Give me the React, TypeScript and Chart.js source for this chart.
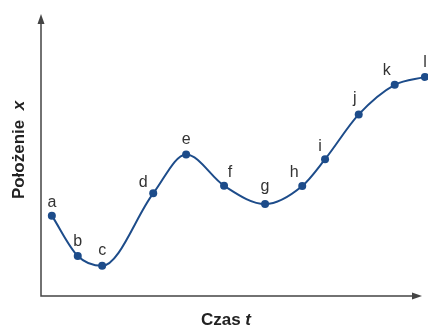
import React, { useEffect, useRef } from "react";
import { Chart, registerables } from "chart.js";

Chart.register(...registerables);

const pointLabels = ["a", "b", "c", "d", "e", "f", "g", "h", "i", "j", "k", "l"];
const timeValues = [0.28, 0.95, 1.58, 2.9, 3.75, 4.73, 5.79, 6.75, 7.34, 8.21, 9.14, 9.92];
const positionValues = [2.85, 1.42, 1.07, 3.64, 5.02, 3.91, 3.26, 3.9, 4.85, 6.44, 7.49, 7.77];
const xAxisTitle = "Czas";
const xAxisVar = "t";
const yAxisTitle = "Położenie";
const yAxisVar = "x";

// label placement relative to each point (dx, dy to baseline)
const labelOffsets: [number, number][] = [
  [0, -9], [0, -10], [0, -10.5], [-10, -6], [0, -10], [6, -9],
  [0, -13], [-8, -9], [-5, -8.5], [-4, -11], [-8, -10], [0, -10],
];

const CURVE = "#1d4c8a";
const AXIS = "#444";

const decorPlugin = {
  id: "decor",
  beforeDatasetsDraw(chart: any) {
    const { ctx, chartArea } = chart;
    const x0 = chartArea.left;
    const y0 = chartArea.bottom;
    const top = chartArea.top;
    const right = 422;
    ctx.save();
    ctx.strokeStyle = AXIS;
    ctx.fillStyle = AXIS;
    ctx.lineWidth = 1.5;
    ctx.beginPath();
    ctx.moveTo(x0, top + 8);
    ctx.lineTo(x0, y0);
    ctx.lineTo(right - 8, y0);
    ctx.stroke();
    // y arrow
    ctx.beginPath();
    ctx.moveTo(x0, top);
    ctx.lineTo(x0 - 3.5, top + 10);
    ctx.lineTo(x0 + 3.5, top + 10);
    ctx.closePath();
    ctx.fill();
    // x arrow
    ctx.beginPath();
    ctx.moveTo(right, y0);
    ctx.lineTo(right - 10, y0 - 3.5);
    ctx.lineTo(right - 10, y0 + 3.5);
    ctx.closePath();
    ctx.fill();

    // x title
    ctx.fillStyle = "#222";
    ctx.textBaseline = "alphabetic";
    const f1 = "bold 17px 'Liberation Sans', Arial, sans-serif";
    const f2 = "italic bold 17px 'Liberation Sans', Arial, sans-serif";
    ctx.font = f1;
    const w1 = ctx.measureText(xAxisTitle + " ").width;
    ctx.font = f2;
    const w2 = ctx.measureText(xAxisVar).width;
    const cx = 226;
    let sx = cx - (w1 + w2) / 2;
    ctx.font = f1;
    ctx.textAlign = "left";
    ctx.fillText(xAxisTitle + " ", sx, 325);
    ctx.font = f2;
    ctx.fillText(xAxisVar, sx + w1, 325);

    // y title
    ctx.save();
    ctx.translate(24, 150);
    ctx.rotate(-Math.PI / 2);
    ctx.font = f1;
    const v1 = ctx.measureText(yAxisTitle + "  ").width;
    ctx.font = f2;
    const v2 = ctx.measureText(yAxisVar).width;
    sx = -(v1 + v2) / 2;
    ctx.font = f1;
    ctx.fillText(yAxisTitle + "  ", sx, 0);
    ctx.font = f2;
    ctx.fillText(yAxisVar, sx + v1, 0);
    ctx.restore();
    ctx.restore();
  },
  afterDatasetsDraw(chart: any) {
    const { ctx } = chart;
    const meta = chart.getDatasetMeta(0);
    ctx.save();
    ctx.fillStyle = "#333";
    ctx.font = "16px 'Liberation Sans', Arial, sans-serif";
    ctx.textAlign = "center";
    ctx.textBaseline = "alphabetic";
    meta.data.forEach((pt: any, i: number) => {
      const [dx, dy] = labelOffsets[i] || [0, -10];
      ctx.fillText(pointLabels[i], pt.x + dx, pt.y + dy);
    });
    ctx.restore();
  },
};

export default function App() {
  const ref = useRef<HTMLCanvasElement | null>(null);
  useEffect(() => {
    if (!ref.current) return;
    const chart = new Chart(ref.current, {
      type: "line",
      data: {
        datasets: [
          {
            data: timeValues.map((t, i) => ({ x: t, y: positionValues[i] })),
            borderColor: CURVE,
            backgroundColor: CURVE,
            borderWidth: 2,
            pointRadius: 4,
            pointBackgroundColor: CURVE,
            pointBorderColor: CURVE,
            pointBorderWidth: 0,
            cubicInterpolationMode: "monotone",
            clip: false as any,
          },
        ],
      },
      options: {
        responsive: false,
        animation: false,
        devicePixelRatio: 1,
        layout: { autoPadding: false, padding: { left: 41, right: 0, top: 14, bottom: 31 } },
        plugins: { legend: { display: false }, tooltip: { enabled: false } },
        scales: {
          x: { type: "linear", min: 0, max: 10, display: false },
          y: { type: "linear", min: 0, max: 10, display: false },
        },
      },
      plugins: [decorPlugin],
    });
    return () => chart.destroy();
  }, []);
  return (
    <div style={{ position: "fixed", left: 0, top: 0, width: 428, height: 327, background: "#fff" }}>
      <canvas ref={ref} width={428} height={327} />
    </div>
  );
}
